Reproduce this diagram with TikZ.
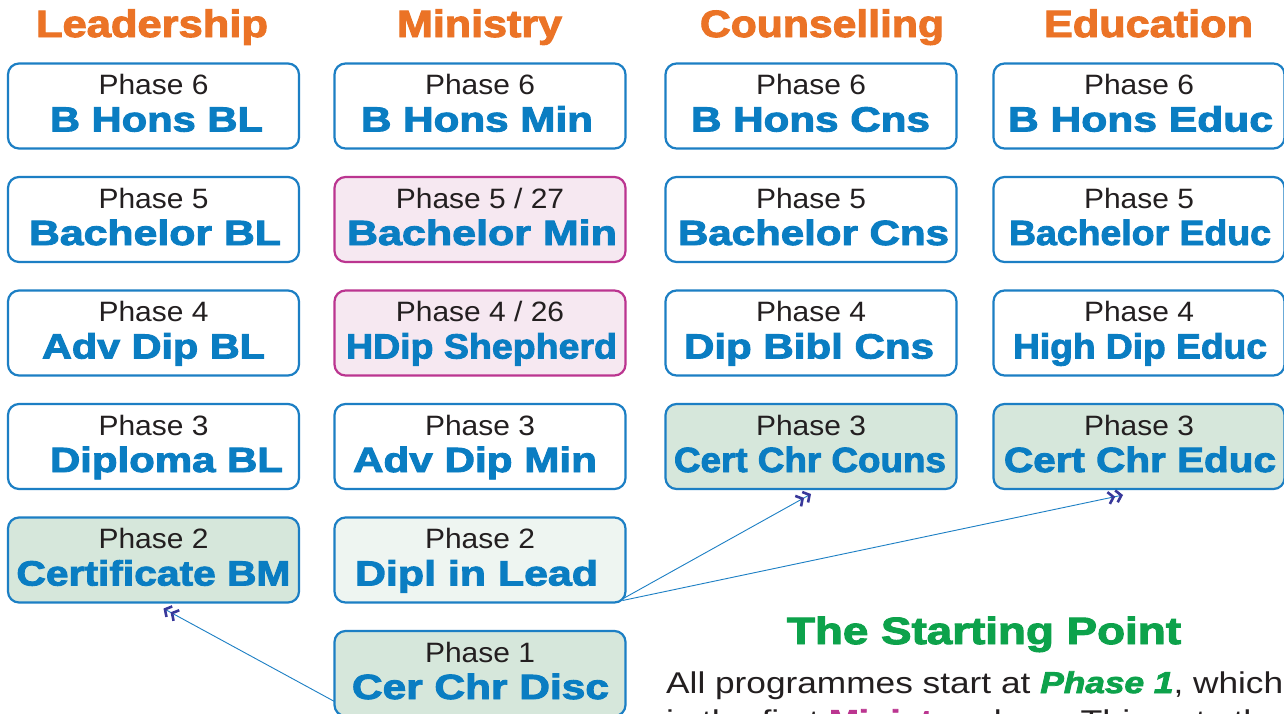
\documentclass[tikz,border=0pt]{standalone}
\usepackage{fontspec}
\setmainfont{Liberation Sans}[BoldFeatures={FakeBold=2.5},BoldItalicFeatures={FakeBold=2.5}]
\usetikzlibrary{arrows.meta,calc}
\definecolor{bblue}{HTML}{1C7FC4}
\definecolor{tblue}{HTML}{0A7DC2}
\definecolor{horange}{HTML}{EB7326}
\definecolor{tgreen}{HTML}{0DA24B}
\definecolor{mag}{HTML}{BB3590}
\definecolor{pinkfill}{HTML}{F6E8F1}
\definecolor{greenfill}{HTML}{D6E7DB}
\definecolor{palefill}{HTML}{EEF5F1}
\definecolor{chev}{HTML}{38389A}
\definecolor{ink}{HTML}{231F20}
\tikzset{
  pbox/.style={rectangle, rounded corners=11pt, draw=bblue, line width=2.2pt, fill=white,
    minimum width=291pt, minimum height=85pt, inner sep=0pt, outer sep=0pt},
  pinkbox/.style={draw=mag, fill=pinkfill},
  greenbox/.style={fill=greenfill},
  palebox/.style={fill=palefill},
  plainbox/.style={},
  phasetxt/.style={anchor=base, inner sep=0pt, text=ink, font=\fontsize{28}{30}\selectfont},
  labtxt/.style={anchor=base, inner sep=0pt, text=tblue, font=\bfseries\fontsize{35}{38}\selectfont},
  hdr/.style={anchor=base, inner sep=0pt, text=horange, font=\bfseries\fontsize{38}{40}\selectfont},
  conn/.style={draw=bblue, line width=0.9pt,
    -{Straight Barb[length=5pt,width=12pt,line width=2.6pt,color=chev] Straight Barb[length=5pt,width=12pt,line width=2.6pt,color=chev]}},
}
\newcommand\pb[8]{%
  \node[pbox,#4] (#1) at (#2pt,-#3pt-42.5pt) {};
  \node[phasetxt] (#1p) at ([yshift=-31pt]#1.north) {\scalebox{1.07}[1]{#5}};
  \node[labtxt] (#1l) at ([xshift=#8pt,yshift=-68pt]#1.north) {\resizebox{#6pt}{\height}{#7}};
}
\begin{document}
\begin{tikzpicture}
\useasboundingbox (0pt,0pt) rectangle (1284pt,-713pt);
\clip (0pt,0pt) rectangle (1284pt,-713pt);
\fill[white] (0pt,0pt) rectangle (1284pt,-713pt);

% headers
\node[hdr] (hL) at (152pt,-37pt) {\resizebox{232pt}{\height}{Leadership}};
\node[hdr] (hM) at (479.5pt,-37pt) {\resizebox{165pt}{\height}{Ministry}};
\node[hdr] (hC) at (822pt,-37pt) {\resizebox{244pt}{\height}{Counselling}};
\node[hdr] (hE) at (1148.5pt,-37pt) {\resizebox{209pt}{\height}{Education}};

% Leadership
\pb{l6}{153.5}{63.5}{plainbox}{Phase 6}{213}{B Hons BL}{3}
\pb{l5}{153.5}{177}{plainbox}{Phase 5}{252}{Bachelor BL}{1.5}
\pb{l4}{153.5}{290.5}{plainbox}{Phase 4}{223}{Adv Dip BL}{0}
\pb{l3}{153.5}{404}{plainbox}{Phase 3}{233}{Diploma BL}{13}
\pb{l2}{153.5}{517.5}{greenbox}{Phase 2}{274}{Certificate BM}{0}

% Ministry
\pb{m6}{480}{63.5}{plainbox}{Phase 6}{232}{B Hons Min}{-3}
\pb{m5}{480}{177}{pinkbox}{Phase 5 / 27}{270}{Bachelor Min}{2}
\pb{m4}{480}{290.5}{pinkbox}{Phase 4 / 26}{271}{HDip Shepherd}{1.5}
\pb{m3}{480}{404}{plainbox}{Phase 3}{244}{Adv Dip Min}{-5}
\pb{m2}{480}{517.5}{palebox}{Phase 2}{243}{Dipl in Lead}{-3.5}
\pb{m1}{480}{631}{greenbox}{Phase 1}{257}{Cer Chr Disc}{0.5}

% Counselling
\pb{c6}{811}{63.5}{plainbox}{Phase 6}{239}{B Hons Cns}{-0.5}
\pb{c5}{811}{177}{plainbox}{Phase 5}{271}{Bachelor Cns}{2.5}
\pb{c4}{811}{290.5}{plainbox}{Phase 4}{250}{Dip Bibl Cns}{-2}
\pb{c3}{811}{404}{greenbox}{Phase 3}{272}{Cert Chr Couns}{-1}

% Education
\pb{e6}{1139}{63.5}{plainbox}{Phase 6}{265}{B Hons Educ}{1.5}
\pb{e5}{1139}{177}{plainbox}{Phase 5}{262}{Bachelor Educ}{1}
\pb{e4}{1139}{290.5}{plainbox}{Phase 4}{254}{High Dip Educ}{1}
\pb{e3}{1139}{404}{greenbox}{Phase 3}{272}{Cert Chr Educ}{1}

% connectors
\draw[conn] ([yshift=-28pt]m1.west) -- ($(l2.south)+(10pt,-6pt)$);
\draw[conn] ([shift={(-4pt,3pt)}]m2.south east) -- ($(c3.south)+(0pt,-5pt)$);
\draw[conn] ([shift={(-3pt,2pt)}]m2.south east) -- ($(e3.south)+(-16pt,-6pt)$);

% starting point text
\node[anchor=base, inner sep=0pt, text=tgreen, font=\bfseries\fontsize{38}{40}\selectfont]
  (title) at (984pt,-644pt) {\resizebox{394pt}{\height}{The Starting Point}};
\node[anchor=base west, inner sep=0pt, text=ink, font=\fontsize{30}{36}\selectfont]
  (body1) at (666pt,-693pt) {\resizebox{617pt}{\height}{All programmes start at \textcolor{tgreen}{\bfseries\itshape Phase 1}, which}};
\node[anchor=base west, inner sep=0pt, text=ink, font=\fontsize{30}{36}\selectfont]
  (body2) at (666pt,-731pt) {\resizebox{617pt}{\height}{is the first \textcolor{mag}{\bfseries Ministry} class. This sets the}};
\end{tikzpicture}
\end{document}
